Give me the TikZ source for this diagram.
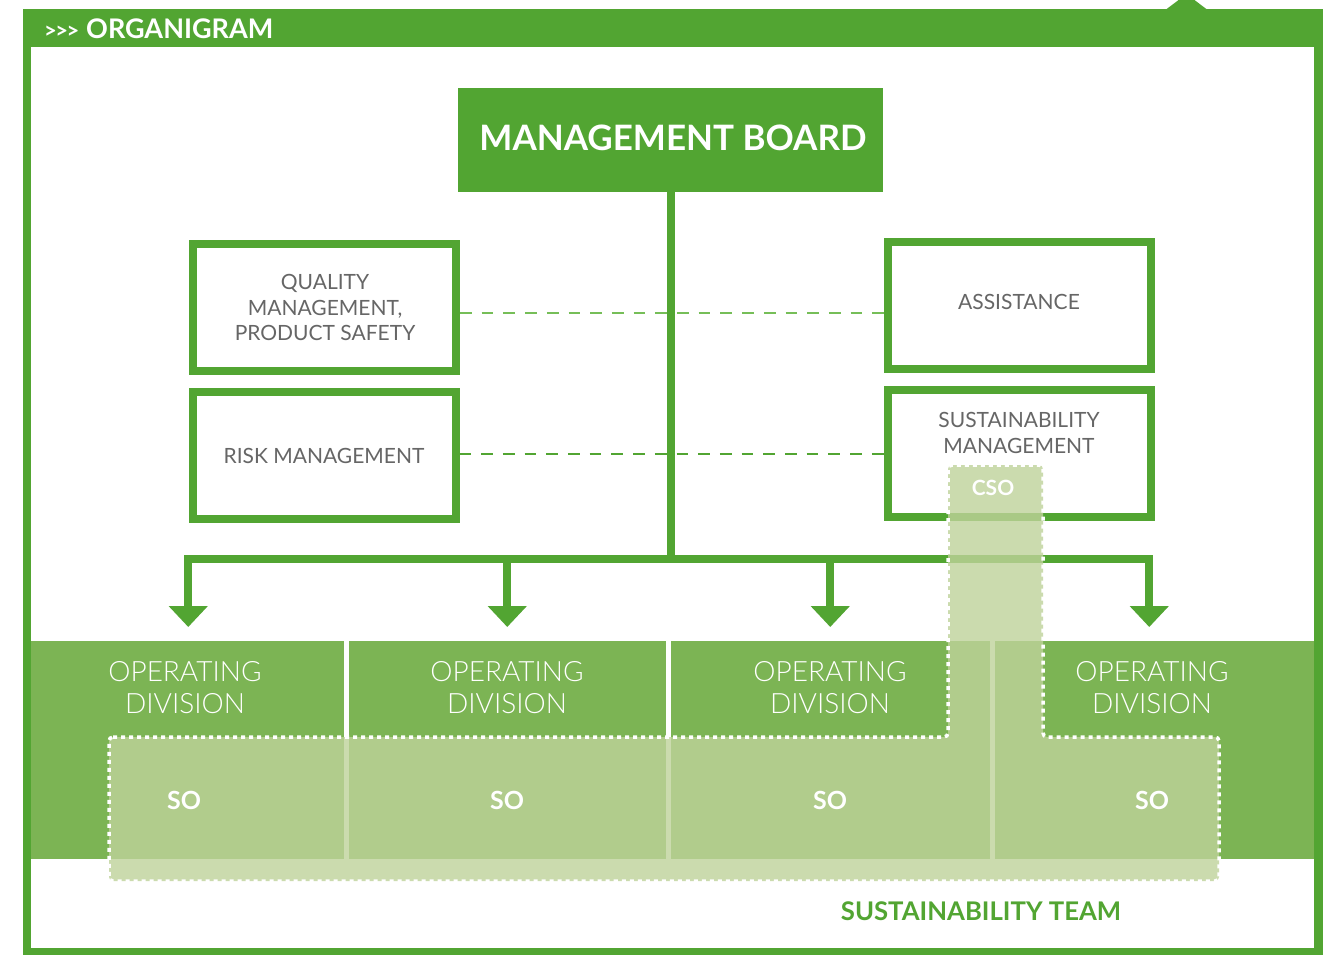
\documentclass[tikz,border=0pt]{standalone}
\usepackage{fontspec}
\setmainfont{Lato}
\IfFontExistsTF{Lato Light}{\newfontfamily\lightf{Lato Light}}{\newfontfamily\lightf{Lato}}
\usetikzlibrary{arrows.meta}
\definecolor{mg}{RGB}{82,165,50}
\definecolor{dg}{RGB}{124,180,84}
\definecolor{ov}{RGB}{191,210,154}
\definecolor{tx}{RGB}{102,102,102}
\definecolor{dl}{RGB}{118,190,88}
\begin{document}
\begin{tikzpicture}[x=1pt,y=-1pt,
  board/.style={fill=mg, minimum width=425, minimum height=104, inner sep=0, outer sep=0},
  boardtext/.style={text=white, font=\bfseries\fontsize{35}{35}\selectfont, inner sep=0},
  side/.style={draw=mg, line width=8, fill=white, minimum width=263, minimum height=127, inner sep=0},
  sidetext/.style={text=tx, font=\fontsize{21}{25.5}\selectfont, align=center, inner sep=0},
  div/.style={fill=dg, minimum height=218, inner sep=0, outer sep=0},
  divlabel/.style={text=white, font=\lightf\fontsize{28}{32}\selectfont, align=center, inner sep=0},
  solabel/.style={text=white, font=\bfseries\fontsize{25}{25}\selectfont, inner sep=0},
  bus/.style={draw=mg, line width=8, line join=miter},
  busarrow/.style={bus, -{Triangle[width=38pt,length=21pt]}},
  conn/.style={draw=#1, line width=2, dash pattern=on 11.7pt off 10pt},
  team/.style={fill=ov, fill opacity=0.8, draw=white, draw opacity=1, line width=3.5, dash pattern=on 4pt off 4pt, rounded corners=4}
]
\useasboundingbox (0,0) rectangle (1333,955);
% frame
\fill[mg] (23,9) rectangle (1323,955);
\fill[white] (31,47) rectangle (1314,948);
\fill[mg] (1166,9.5) -- (1186.5,-6) -- (1207,9.5) -- cycle;
\node[anchor=base west, text=white, font=\bfseries\fontsize{22}{22}\selectfont, inner sep=0] (arr) at (44,39) {>\kern-1.5pt>\kern-1.5pt>};
\node[anchor=base west, text=white, font=\bfseries\fontsize{27}{27}\selectfont, inner sep=0] (title) at (86,39) {ORGANIGRAM};

% board
\node[board] (mb) at (670.5,140) {};
\node[boardtext] (mbt) at (673,137.5) {MANAGEMENT BOARD};

% side boxes
\node[side] (qm) at (324.5,307.5) {};
\node[sidetext] (qmt) at (325,307.5) {QUALITY\\MANAGEMENT,\\PRODUCT SAFETY};
\node[side] (rm) at (324,455.5) {};
\node[sidetext] (rmt) at (324,456) {RISK MANAGEMENT};
\node[side] (as) at (1019,305.5) {};
\node[sidetext] (ast) at (1019,302) {ASSISTANCE};
\node[side] (sm) at (1019,453.5) {};
\node[sidetext] (smt) at (1019,433) {SUSTAINABILITY\\MANAGEMENT};

% divisions
\node[div, minimum width=312.5] (d1) at (187.25,750) {};
\node[div, minimum width=317.5] (d2) at (507.25,750) {};
\node[div, minimum width=318.5] (d3) at (830.25,750) {};
\node[div, minimum width=319.5] (d4) at (1154.25,750) {};
\node[divlabel] (l1) at (185,688) {OPERATING\\DIVISION};
\node[divlabel] (l2) at (507,688) {OPERATING\\DIVISION};
\node[divlabel] (l3) at (830,688) {OPERATING\\DIVISION};
\node[divlabel] (l4) at (1152,688) {OPERATING\\DIVISION};

% dashed connectors
\coordinate (y1) at (0,313);
\coordinate (y2) at (0,454);
\coordinate (busy) at (0,559);
\draw[conn=dl] (qm.east |- y1) -- (as.west |- y1);
\draw[conn=mg] (rm.east |- y2) -- (sm.west |- y2);

% trunk and bus
\coordinate (j) at (mb.south |- busy);
\coordinate (t1) at ([xshift=1pt,yshift=14pt]d1.north);
\coordinate (t2) at ([yshift=14pt]d2.north);
\coordinate (t3) at ([yshift=14pt]d3.north);
\coordinate (t4) at ([xshift=-5pt,yshift=14pt]d4.north);
\draw[bus] (mb.south) -- (j);
\draw[busarrow] (j) -| (t1);
\draw[busarrow] (j) -| (t2);
\draw[busarrow] (j) -| (t3);
\draw[busarrow] (j) -| (t4);

% sustainability team overlay
\draw[team] (109,737) -- (948,737) -- (948,465) -- (1043,465) -- (1043,737) -- (1219,737) -- (1219,881) -- (109,881) -- cycle;
\node[solabel, font=\bfseries\fontsize{21}{21}\selectfont] (cso) at (993,488) {CSO};
\node[solabel] (so1) at (184,800) {SO};
\node[solabel] (so2) at (507,800) {SO};
\node[solabel] (so3) at (830,800) {SO};
\node[solabel] (so4) at (1152,800) {SO};
\node[text=mg, font=\bfseries\fontsize{25.7}{25.7}\selectfont, inner sep=0] (team) at (981,911) {SUSTAINABILITY TEAM};
\end{tikzpicture}
\end{document}
